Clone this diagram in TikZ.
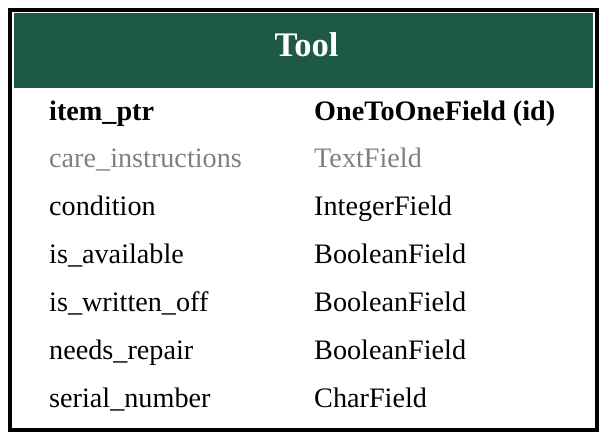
\documentclass[tikz,border=0pt]{standalone}
\usepackage{fontspec}
\setmainfont{Liberation Serif}
\definecolor{hdrgreen}{HTML}{1E5A43}
\definecolor{dimtext}{HTML}{808080}
\begin{document}
\begin{tikzpicture}[x=1pt,y=-1pt,
  fieldname/.style={anchor=base west,inner sep=0pt,font=\fontsize{28.2}{33}\selectfont},
  fieldtype/.style={anchor=base west,inner sep=0pt,font=\fontsize{28.2}{33}\selectfont},
  keyrow/.style={font=\fontsize{28.2}{33}\selectfont\bfseries},
  dimrow/.style={text=dimtext}]
  \useasboundingbox (0,0) rectangle (606,439);
  % table frame and header band
  \fill[white] (10,10) rectangle (597,430);
  \fill[hdrgreen] (14,13) rectangle (593,88);
  \draw[line width=4pt] (10,10) rectangle (597,430);
  \node[anchor=base,inner sep=0pt,text=white,font=\fontsize{34.5}{40}\selectfont\bfseries] (title) at (306.5,56.7) {Tool};
  % field rows
  \node[fieldname,keyrow] (n1) at (49,120) {item\_ptr};
  \node[fieldtype,keyrow] (t1) at (314,120) {OneToOneField (id)};
  \node[fieldname,dimrow] (n2) at (49,167.9) {care\_instructions};
  \node[fieldtype,dimrow] (t2) at (314,167.9) {TextField};
  \node[fieldname] (n3) at (49,215.8) {condition};
  \node[fieldtype] (t3) at (314,215.8) {IntegerField};
  \node[fieldname] (n4) at (49,263.7) {is\_available};
  \node[fieldtype] (t4) at (314,263.7) {BooleanField};
  \node[fieldname] (n5) at (49,311.6) {is\_written\_off};
  \node[fieldtype] (t5) at (314,311.6) {BooleanField};
  \node[fieldname] (n6) at (49,359.5) {needs\_repair};
  \node[fieldtype] (t6) at (314,359.5) {BooleanField};
  \node[fieldname] (n7) at (49,407.4) {serial\_number};
  \node[fieldtype] (t7) at (314,407.4) {CharField};
\end{tikzpicture}
\end{document}
